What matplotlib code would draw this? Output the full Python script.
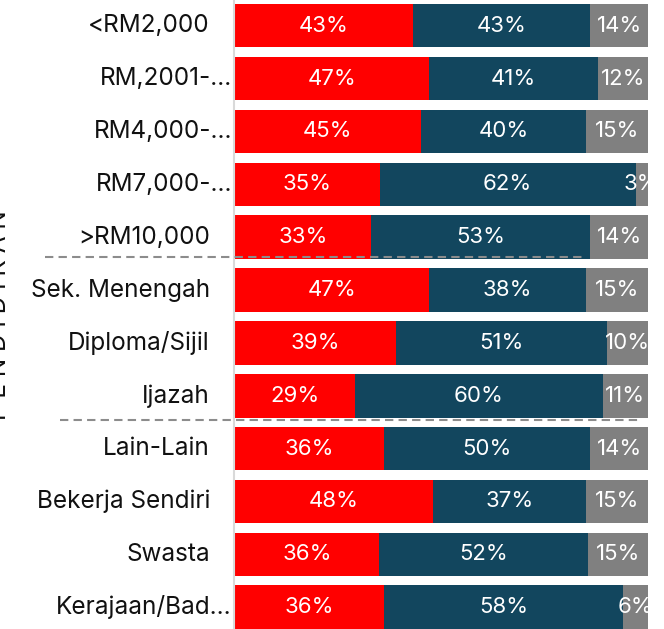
import numpy as np
import matplotlib.pyplot as plt
from matplotlib import transforms

plt.rcParams['font.family'] = ['Inter', 'DejaVu Sans']

# -----------------------------
# Data (% per group)
# -----------------------------
categories = ["<RM2,000", "RM,2001-…", "RM4,000-…", "RM7,000-…", ">RM10,000",
              "Sek. Menengah", "Diploma/Sijil", "Ijazah",
              "Lain-Lain", "Bekerja Sendiri", "Swasta", "Kerajaan/Bad…"]
truncated = [False, True, True, True, False,
             False, False, False,
             False, False, False, True]
red_vals = [43, 47, 45, 35, 33, 47, 39, 29, 36, 48, 36, 36]
blue_vals = [43, 41, 40, 62, 53, 38, 51, 60, 50, 37, 52, 58]
grey_vals = [14, 12, 15, 3, 14, 15, 10, 11, 14, 15, 15, 6]
side_title = "P E N D I D I K A N"

colors = ["#FF0000", "#12465E", "#808080"]

# 100% stacked: normalise each row
data = np.array([red_vals, blue_vals, grey_vals], dtype=float)
shares = data / data.sum(axis=0) * 100

W, H = 664, 629
fig = plt.figure(figsize=(W / 100, H / 100), dpi=100)
ax = fig.add_axes([235 / W, 0, (648 - 235) / W, 1])

y = np.arange(len(categories))
left = np.zeros(len(categories))
for k in range(3):
    ax.barh(y, shares[k], left=left, height=0.823, color=colors[k], zorder=1)
    for i in range(len(categories)):
        ax.text(left[i] + shares[k][i] / 2, y[i], f"{int(data[k][i])}%",
                ha="center", va="center", color="white", fontsize=16,
                clip_on=True, zorder=3)
    left += shares[k]

ax.set_xlim(0, 100)
ax.set_ylim(11.412, -0.487)
ax.set_xticks([])
ax.set_yticks([])
for s in ["top", "right", "bottom"]:
    ax.spines[s].set_visible(False)
ax.spines["left"].set_color("#D9D9D9")
ax.spines["left"].set_linewidth(1.5)
ax.spines["left"].set_position(("outward", 1))

# category labels (Excel style: truncated ones run up to the axis)
for i, lab in enumerate(categories):
    off = -3 if truncated[i] else -25
    ax.annotate(lab, xy=(0, y[i]), xycoords=("axes fraction", "data"),
                xytext=(off, 0), textcoords="offset pixels",
                ha="right", va="center", fontsize=17.5, color="#111111",
                annotation_clip=False)

# dashed group separators
tr = transforms.blended_transform_factory(fig.transFigure, ax.transData)
ax.plot([45 / W, 585 / W], [4.369, 4.369], transform=tr, color="#8C8C8C",
        lw=1.5, ls=(0, (4, 2.5)), clip_on=False, zorder=4)
ax.plot([60 / W, 642 / W], [7.458, 7.458], transform=tr, color="#8C8C8C",
        lw=1.5, ls=(0, (4, 2.5)), clip_on=False, zorder=4)

# group title, mostly cut off at the left edge
fig.text(0, 1 - 315 / H, side_title, rotation=90, ha="center",
         va="center", fontsize=17.5, color="#111111")

fig.savefig("out.png", dpi=100)
